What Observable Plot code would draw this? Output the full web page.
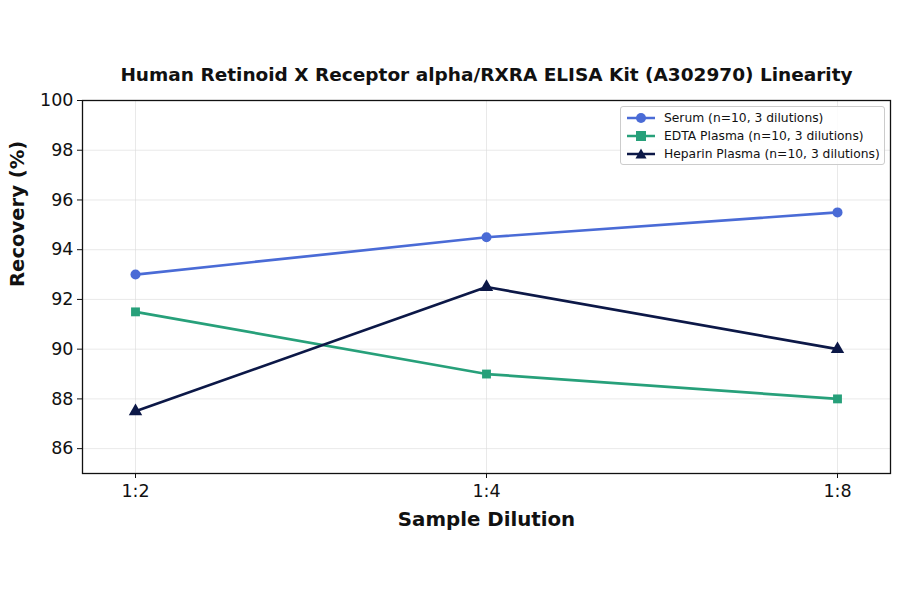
<!DOCTYPE html>
<html><head><meta charset="utf-8">
<script src="https://cdn.jsdelivr.net/npm/d3@7"></script>
<script src="https://cdn.jsdelivr.net/npm/@observablehq/plot@0.6"></script>
<style>
body{margin:0;background:#fff;font-family:"DejaVu Sans",sans-serif;}
#wrap{position:relative;width:900px;height:594px;}
#legend{position:absolute;left:620px;top:106px;width:265px;height:59px;border:1px solid #ccc;border-radius:3px;background:rgba(255,255,255,0.85);font-size:12.3px;color:#111;box-sizing:border-box;padding:2px 0 0 6px;white-space:nowrap;}
.row{display:flex;align-items:center;height:18px;}
.row svg{margin-right:9px;flex:none;}
</style></head><body>
<div id="wrap"><div id="chart"></div><div id="legend"></div></div>
<script>
const dilutions = ["1:2","1:4","1:8"];
const seriesNames = ["Serum (n=10, 3 dilutions)","EDTA Plasma (n=10, 3 dilutions)","Heparin Plasma (n=10, 3 dilutions)"];
const serum = [93.0, 94.5, 95.5];
const edta = [91.5, 89.0, 88.0];
const heparin = [87.5, 92.5, 90.0];
const colors = ["#4a6bd6","#27a07a","#0c1847"];
const symbols = ["circle","square","triangle"];
const yTicks = [86,88,90,92,94,96,98,100];

const allVals = [serum, edta, heparin];
const data = [];
seriesNames.forEach((s,i)=>dilutions.forEach((d,j)=>data.push({series:s,dilution:d,value:allVals[i][j]})));

const chart = Plot.plot({
  width:900, height:594,
  marginTop:100, marginBottom:121, marginLeft:82, marginRight:10,
  style:{fontFamily:"DejaVu Sans", fontSize:"17px", color:"#111"},
  x:{type:"point", domain:dilutions, padding:0.15, label:null},
  y:{domain:[85,100], ticks:yTicks, label:null},
  color:{domain:seriesNames, range:colors},
  symbol:{domain:seriesNames, range:symbols},
  marks:[
    Plot.gridX(dilutions,{stroke:"#ddd", strokeOpacity:0.8, strokeWidth:0.8}),
    Plot.gridY(yTicks,{stroke:"#ddd", strokeOpacity:0.8, strokeWidth:0.8}),
    Plot.axisY({ticks:yTicks, tickSize:5, tickPadding:4, fontSize:17.5, label:null}),
    Plot.axisX({tickSize:5, tickPadding:6, fontSize:17.5, label:null}),
    Plot.line(data,{x:"dilution", y:"value", z:"series", stroke:"series", strokeWidth:2.7}),
    Plot.dot(data,{x:"dilution", y:"value", fill:"series", symbol:"series", r:5, stroke:"none"}),
    Plot.frame({stroke:"#111", strokeWidth:1.3}),
    Plot.text(["Human Retinoid X Receptor alpha/RXRA ELISA Kit (A302970) Linearity"],{frameAnchor:"top", dy:-33, fontSize:18.5, fontWeight:"bold", fill:"#111"}),
    Plot.text(["Sample Dilution"],{frameAnchor:"bottom", dy:52, fontSize:19.8, fontWeight:"bold", fill:"#111"}),
    Plot.text(["Recovery (%)"],{frameAnchor:"left", dx:-65, rotate:-90, fontSize:19.6, fontWeight:"bold", fill:"#111"})
  ]
});
document.getElementById("chart").appendChild(chart);

const leg = document.getElementById("legend");
const shapes = [
  c=>`<circle cx="14" cy="6" r="5" fill="${c}"/>`,
  c=>`<rect x="9" y="1" width="10" height="10" fill="${c}"/>`,
  c=>`<path d="M14,0.5 L19.5,10.5 L8.5,10.5 Z" fill="${c}"/>`
];
seriesNames.forEach((s,i)=>{
  const r = document.createElement("div"); r.className="row";
  r.innerHTML = `<svg width="28" height="12"><line x1="0" y1="6" x2="28" y2="6" stroke="${colors[i]}" stroke-width="2.5"/>${shapes[i](colors[i])}</svg><span>${s}</span>`;
  leg.appendChild(r);
});
</script>
</body></html>
